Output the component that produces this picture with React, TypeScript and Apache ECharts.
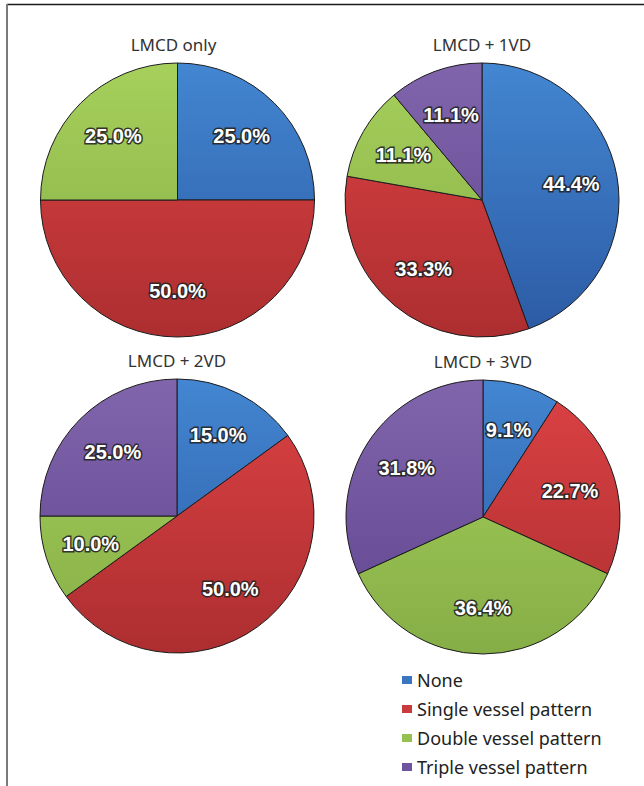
import React, { useEffect, useRef } from 'react';
import * as echarts from 'echarts';

// ---- data ----
const categories = ['None', 'Single vessel pattern', 'Double vessel pattern', 'Triple vessel pattern'];
const groups = ['LMCD only', 'LMCD + 1VD', 'LMCD + 2VD', 'LMCD + 3VD'];
const nonePct = [25.0, 44.4, 15.0, 9.1];
const singlePct = [50.0, 33.3, 50.0, 22.7];
const doublePct = [25.0, 11.1, 10.0, 36.4];
const triplePct = [0, 11.1, 25.0, 31.8];

// ---- styling ----
const colorsTop = ['#4386d1', '#dc4244', '#a6d05b', '#8165ac'];
const colorsBottom = ['#2c5aa4', '#ad2e30', '#86ae47', '#5f448f'];
const legendColors = ['#3a76c0', '#c83a3c', '#94c150', '#6e53a0'];
const centers: [number, number][] = [
  [177.5, 200],
  [482, 200],
  [177, 516],
  [483, 517],
];
const R = 137;
const LABEL_FACTOR = 0.64;
const TITLE_FONT = '"Noto Sans", "Open Sans", sans-serif';

function buildOption() {
  const seriesValues = [nonePct, singlePct, doublePct, triplePct];
  const pieSeries: any[] = [];
  const labelSeries: any[] = [];
  groups.forEach((g, gi) => {
    const [cx, cy] = centers[gi];
    const items = categories
      .map((name, ci) => ({ name, value: seriesValues[ci][gi], ci }))
      .filter((d) => d.value > 0);
    pieSeries.push({
      type: 'pie',
      name: g,
      center: [cx, cy],
      radius: R,
      startAngle: 90,
      clockwise: true,
      avoidLabelOverlap: false,
      label: { show: false },
      labelLine: { show: false },
      emphasis: { disabled: true },
      itemStyle: { borderColor: '#1c1c1c', borderWidth: 1 },
      data: items.map((d) => ({
        name: d.name,
        value: d.value,
        itemStyle: {
          color: {
            type: 'linear',
            x: 0,
            y: cy - R,
            x2: 0,
            y2: cy + R,
            global: true,
            colorStops: [
              { offset: 0, color: colorsTop[d.ci] },
              { offset: 1, color: colorsBottom[d.ci] },
            ],
          },
        },
      })),
    });
    labelSeries.push({
      type: 'pie',
      name: g + ' labels',
      center: [cx, cy],
      radius: R * 2 * LABEL_FACTOR,
      startAngle: 90,
      clockwise: true,
      silent: true,
      legendHoverLink: false,
      avoidLabelOverlap: false,
      emphasis: { disabled: true },
      itemStyle: { color: 'rgba(0,0,0,0)', borderWidth: 0 },
      labelLine: { show: false },
      label: {
        show: true,
        position: 'inside',
        formatter: (p: any) => Number(p.value).toFixed(1) + '%',
        color: '#ffffff',
        fontSize: 20,
        fontWeight: 'bold',
        fontFamily: '"Liberation Sans", Arial, sans-serif',
        textBorderColor: 'rgba(35,35,35,0.9)',
        textBorderWidth: 3,
      },
      data: items.map((d) => ({ name: d.name, value: d.value })),
    });
  });

  return {
    animation: false,
    backgroundColor: '#ffffff',
    title: groups.map((g, gi) => ({
      text: g,
      left: centers[gi][0] - (gi === 0 ? 4 : 0),
      top: centers[gi][1] - 164,
      textAlign: 'center',
      padding: 0,
      textStyle: {
        fontSize: 17,
        fontWeight: 'normal',
        color: '#333333',
        fontFamily: TITLE_FONT,
      },
    })),
    legend: {
      orient: 'vertical',
      left: 402,
      top: 670,
      padding: 0,
      itemWidth: 10,
      itemHeight: 8,
      itemGap: 9,
      icon: 'rect',
      selectedMode: false,
      itemStyle: { borderWidth: 0 },
      data: categories.map((c, i) => ({
        name: c,
        itemStyle: { color: legendColors[i], borderWidth: 0 },
      })),
      textStyle: {
        fontSize: 18,
        lineHeight: 20,
        color: '#222222',
        fontFamily: TITLE_FONT,
      },
    },
    graphic: [
      {
        type: 'line',
        shape: { x1: 7, y1: 4.5, x2: 644, y2: 4.5 },
        style: { stroke: '#1a1a1a', lineWidth: 1.5 },
      },
      {
        type: 'line',
        shape: { x1: 7, y1: 4, x2: 7, y2: 786 },
        style: { stroke: '#7a7a7a', lineWidth: 2 },
      },
    ],
    series: [...pieSeries, ...labelSeries],
  };
}

export default function App() {
  const ref = useRef<HTMLDivElement>(null);
  useEffect(() => {
    if (!ref.current) return;
    const chart = echarts.init(ref.current, undefined, { renderer: 'svg' });
    chart.setOption(buildOption() as any);
    return () => chart.dispose();
  }, []);
  return (
    <div
      ref={ref}
      style={{ position: 'absolute', left: 0, top: 0, width: 644, height: 786, background: '#fff' }}
    />
  );
}
